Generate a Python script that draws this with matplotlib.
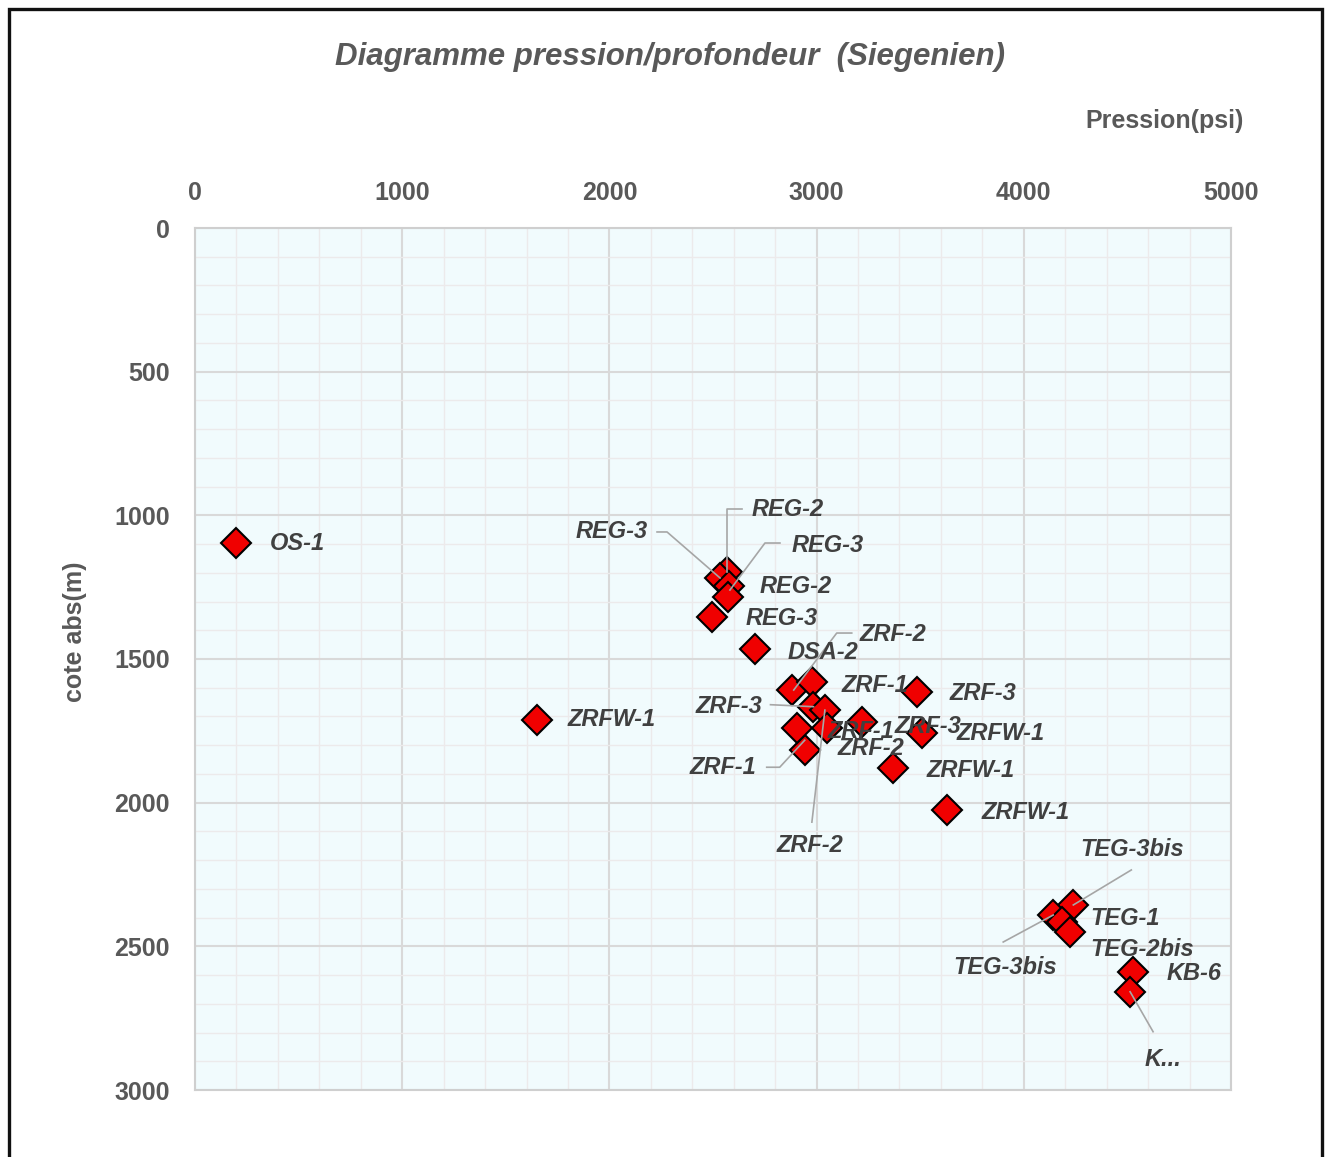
import matplotlib
matplotlib.use("Agg")
import matplotlib.pyplot as plt
from matplotlib.patches import Rectangle
from matplotlib.ticker import MultipleLocator

plt.rcParams["font.family"] = ["Liberation Sans", "DejaVu Sans"]
plt.rcParams["font.weight"] = "bold"

# ---- values: pressure (psi) vs depth (m) ----
wells = ["OS-1", "ZRFW-1", "REG-2", "REG-3", "REG-3", "REG-2", "REG-3", "DSA-2",
         "ZRF-2", "ZRF-1", "ZRF-3", "ZRF-2", "ZRF-1", "ZRF-3", "ZRF-2", "ZRF-1",
         "ZRF-3", "ZRFW-1", "ZRFW-1", "ZRFW-1",
         "TEG-3bis", "TEG-3bis", "TEG-1", "TEG-2bis", "KB-6", "K..."]
pression = [200, 1650, 2566, 2534, 2577, 2572, 2494, 2703,
            2880, 2976, 2985, 3040, 3049, 3217, 2944, 2904,
            3483, 3507, 3370, 3628,
            4239, 4142, 4184, 4223, 4528, 4513]
cote = [1095, 1712, 1196, 1218, 1246, 1284, 1353, 1465,
        1608, 1579, 1666, 1678, 1741, 1718, 1817, 1741,
        1614, 1759, 1881, 2026,
        2356, 2391, 2416, 2449, 2589, 2658]

# ---- label layout: offsets in pixels from the marker (x right, y down) ----
label_dx = [33, 31, 25, -72, 63, 32, 34, 33,
            68, 30, -51, -15, 1, 33, 33, -40,
            33, 35, 33, 35,
            59, -48, 28, 20, 33, 33]
label_dy = [1, 0, -62, -46, -41, -10, 2, 4,
            -56, 4, 0, 135, 3, 5, -2, 39,
            2, 0, 2, 2,
            -55, 52, -4, 18, 2, 68]
label_ha = ["left", "left", "left", "right", "left", "left", "left", "left",
            "left", "left", "right", "center", "left", "left", "left", "right",
            "left", "left", "left", "left",
            "center", "center", "left", "left", "left", "center"]
leaders = {
    2: [(15, -63), (0, -63), (0, 0)],
    3: [(-63, -46), (-53, -46), (0, 0)],
    4: [(51, -43), (36, -43), (1, 4)],
    8: [(60, -57), (45, -57), (2, 0)],
    10: [(-43, -2), (0, 0)],
    11: [(-13, 112), (0, 0)],
    15: [(-30, 39), (-17, 39), (8, 12)],
    20: [(58, -35), (0, 0)],
    21: [(-50, 27), (0, 0)],
    25: [(23, 40), (0, 0)],
}

W, H = 1329, 1157
AX_L, AX_R, AX_T, AX_B = 195, 1231, 228, 1090
TXT = "#595959"

fig = plt.figure(figsize=(W / 100, H / 100), dpi=100)
ax = fig.add_axes([AX_L / W, 1 - AX_B / H, (AX_R - AX_L) / W, (AX_B - AX_T) / H])
ax.set_xlim(0, 5000)
ax.set_ylim(3000, 0)
ax.set_facecolor("#F1FBFD")

ax.xaxis.set_major_locator(MultipleLocator(1000))
ax.xaxis.set_minor_locator(MultipleLocator(200))
ax.yaxis.set_major_locator(MultipleLocator(500))
ax.yaxis.set_minor_locator(MultipleLocator(100))
ax.xaxis.tick_top()
ax.tick_params(which="both", length=0)
ax.tick_params(axis="x", pad=16.5, labelsize=18, labelcolor=TXT)
ax.tick_params(axis="y", pad=18, labelsize=18, labelcolor=TXT)
ax.grid(which="major", color="#D9D9D9", lw=1.5)
ax.grid(which="minor", color="#ECEAEB", lw=1.0)
ax.set_axisbelow(True)
for s in ax.spines.values():
    s.set_color("#CFCFCF")
    s.set_linewidth(1.5)

ax.plot(pression, cote, ls="none", marker="D", ms=15,
        mfc="#F00000", mec="black", mew=1.5, zorder=3)

psi_px = 5000 / (AX_R - AX_L)
m_px = 3000 / (AX_B - AX_T)

for i, (p, d, name) in enumerate(zip(pression, cote, wells)):
    if i in leaders:
        xs = [p + dx * psi_px for dx, dy in leaders[i]]
        ys = [d + dy * m_px for dx, dy in leaders[i]]
        ax.plot(xs, ys, color="#A6A6A6", lw=1.2, zorder=4, clip_on=False)
    ax.annotate(name, (p, d), xytext=(label_dx[i], -label_dy[i]),
                textcoords="offset pixels", ha=label_ha[i], va="center",
                fontsize=17, fontstyle="italic", color="#404040", zorder=5)

fig.text(670 / W, 1 - 57 / H, "Diagramme pression/profondeur  (Siegenien)",
         ha="center", va="center", fontsize=22.5, fontstyle="italic", color=TXT)
fig.text(1244 / W, 1 - 121 / H, "Pression(psi)", ha="right", va="center",
         fontsize=18, color=TXT)
fig.text(75 / W, 1 - 632 / H, "cote abs(m)", ha="center", va="center",
         rotation=90, fontsize=18, color=TXT)

# outer frame of the original sheet
fig.add_artist(Rectangle((8.5 / W, -0.05), (1321.5 - 8.5) / W, 1.05 - 9 / H,
                         transform=fig.transFigure, fill=False,
                         ec="#111111", lw=2.4, clip_on=False))

fig.savefig("out.png", dpi=100)
